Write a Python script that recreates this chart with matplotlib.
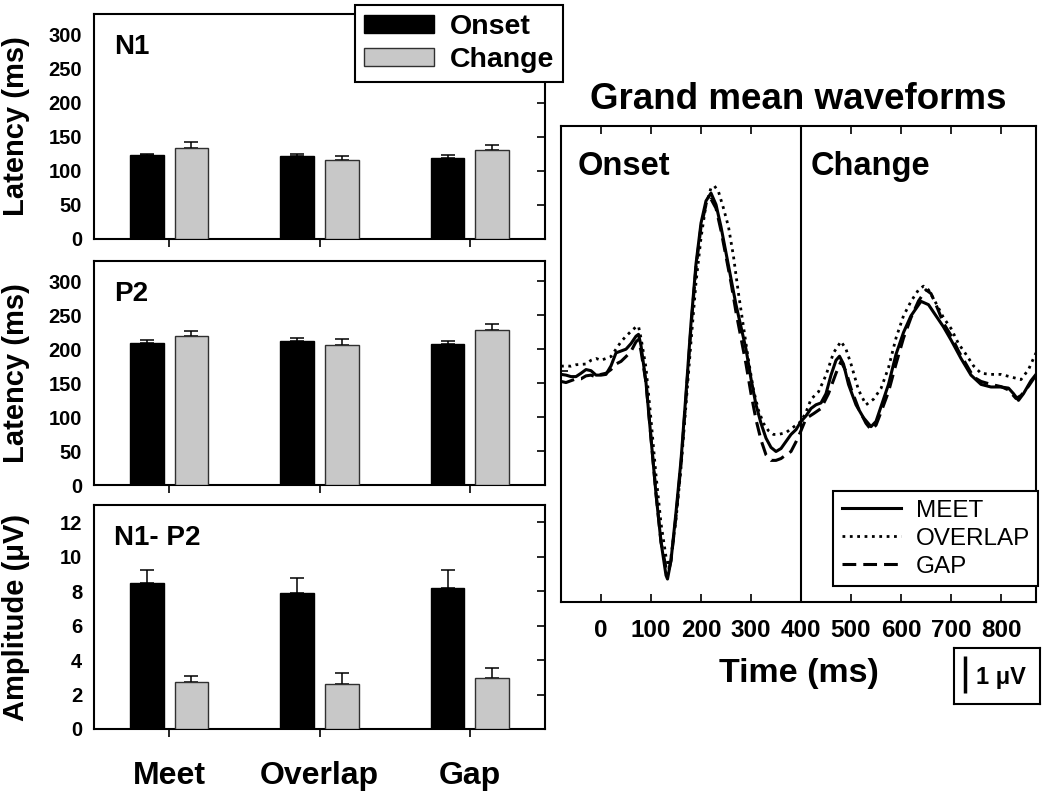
import matplotlib.pyplot as plt
import matplotlib.patches as mpatches
from matplotlib.lines import Line2D
import numpy as np

plt.rcParams['font.family'] = ['Liberation Sans', 'DejaVu Sans']
plt.rcParams['font.weight'] = 'bold'
plt.rcParams['axes.linewidth'] = 1.5

# --- bar data (latency in ms, amplitude in uV) ---
conditions = ['Meet', 'Overlap', 'Gap']

n1_onset = [122.5, 121.5, 119]
n1_onset_err = [2.5, 3, 3.5]
n1_change = [134, 116.5, 130]
n1_change_err = [8, 5, 8]

p2_onset = [209, 212, 207]
p2_onset_err = [4.5, 5, 5]
p2_change = [219, 206.5, 228]
p2_change_err = [8, 8.5, 9]

amp_onset = [8.45, 7.9, 8.2]
amp_onset_err = [0.75, 0.87, 1.03]
amp_change = [2.7, 2.63, 2.96]
amp_change_err = [0.37, 0.64, 0.58]

# --- grand mean waveforms (time ms, amplitude uV) ---
meet_t = [-80, -70, -60, -50, -40, -30, -20, -10, 0, 10, 20, 30, 40, 50, 60, 70,
          75, 80, 90, 100, 110, 120, 130, 133, 140,
          150, 160, 170, 180, 190, 200, 210, 220, 230, 240, 250, 260, 270, 280, 290,
          300, 310, 320, 330, 340, 350, 360, 370, 380, 390, 400,
          410, 420, 430, 440, 450, 460, 470, 477, 485, 495, 510, 525, 540, 550, 560,
          575, 590, 605, 620, 640, 655, 670, 685, 700, 720, 740, 760, 780, 800, 815,
          825, 835, 845, 860, 870]
meet_uv = [-0.08, -0.1, -0.14, -0.14, -0.05, 0.05, 0.02, -0.1, -0.1, -0.08, 0.15, 0.5, 0.55, 0.6, 0.75, 0.95,
           1.0, 0.7, -0.3, -1.8, -3.3, -4.6, -5.5, -5.6, -5.1,
           -3.8, -2.4, -0.6, 1.3, 2.9, 4.0, 4.6, 4.81, 4.5, 3.9, 3.2, 2.5, 1.8, 1.2, 0.6,
           -0.2, -0.9, -1.4, -1.8, -2.05, -2.16, -2.08, -1.89, -1.7, -1.57, -1.35,
           -1.2, -1.0, -0.9, -0.85, -0.6, -0.1, 0.3, 0.41, 0.2, -0.35, -0.9, -1.25, -1.49, -1.35, -0.95,
           -0.35, 0.46, 1.05, 1.5, 1.89, 1.8, 1.5, 1.2, 0.85, 0.35, -0.1, -0.35, -0.42, -0.42, -0.45,
           -0.6, -0.78, -0.6, -0.25, -0.08]

overlap_t = [-80, -70, -60, -50, -40, -30, -20, -10, 0, 10, 20, 30, 40, 50, 60, 70,
             75, 80, 90, 100, 110, 120, 130, 135, 140,
             150, 160, 170, 180, 190, 200, 210, 220,
             227, 235, 245, 255, 265, 275, 285, 295, 305, 315, 325, 335, 345, 355, 370, 385, 400,
             410, 420, 435, 450, 465, 480, 490, 500, 515, 530, 545, 560, 575, 590, 605, 620,
             635, 645, 655, 670, 685, 700, 715, 730, 745, 760, 780, 800, 820, 840, 855, 865, 870]
overlap_uv = [0.14, 0.15, 0.14, 0.18, 0.19, 0.2, 0.3, 0.35, 0.3, 0.35, 0.4, 0.6, 0.8, 0.95, 1.08, 1.2,
              1.22, 0.9, 0.1, -1.3, -2.8, -4.1, -5.0, -5.25, -5.0,
              -4.0, -2.6, -0.9, 0.8, 2.4, 3.6, 4.5, 4.95,
              5.0, 4.85, 4.4, 3.9, 3.1, 2.1, 1.2, 0.3, -0.5, -1.05, -1.4, -1.6, -1.7, -1.7, -1.65, -1.5, -1.35,
              -1.1, -0.75, -0.55, -0.1, 0.5, 0.81, 0.6, 0.2, -0.5, -0.9, -0.75, -0.46, 0.1, 0.9, 1.5, 1.89,
              2.2, 2.3, 2.2, 1.84, 1.45, 1.16, 0.75, 0.46, 0.15, -0.05, -0.08, -0.08, -0.15, -0.22, 0.05, 0.35, 0.5]

gap_t = [-80, -70, -60, -50, -40, -30, -20, -10, 0, 10, 20, 30, 40, 50, 60, 70,
         75, 80, 90, 100, 110, 120, 130, 135, 140,
         150, 160, 170, 180, 190, 200, 210, 220, 230, 240, 250, 260, 270, 280, 290,
         300, 310, 320, 330, 340, 350, 360, 370, 380, 390, 400,
         410, 425, 440, 455, 470, 480, 490, 500, 515, 530, 540, 550, 560, 575, 590, 605,
         620, 635, 650, 660, 670, 685, 700, 715, 730, 745, 760, 780, 800, 815, 830, 840, 855, 870]
gap_uv = [-0.27, -0.3, -0.25, -0.2, -0.2, -0.12, -0.1, -0.15, -0.08, -0.05, 0.05, 0.2, 0.27, 0.4, 0.54, 0.8,
          0.86, 0.55, -0.3, -1.8, -3.3, -4.6, -5.3, -5.4, -5.1,
          -3.9, -2.5, -0.7, 1.2, 2.8, 3.9, 4.5, 4.65, 4.4, 3.8, 3.1, 2.4, 1.6, 0.9, 0.2,
          -0.6, -1.3, -1.85, -2.25, -2.4, -2.4, -2.35, -2.25, -2.16, -1.9, -1.6,
          -1.27, -1.14, -1.0, -0.6, -0.05, 0.27, 0.0, -0.46, -1.0, -1.4, -1.57, -1.45, -1.1, -0.55, 0.2, 0.9,
          1.45, 1.9, 2.2, 2.1, 1.8, 1.3, 0.97, 0.55, 0.2, -0.15, -0.27, -0.35, -0.41, -0.5, -0.73, -0.65, -0.4, -0.1]

W, H = 1050, 793
fig = plt.figure(figsize=(W / 100, H / 100), dpi=100)


def px_box(l, t, r, b):
    # pixel box -> figure fraction rect
    return [l / W, 1 - b / H, (r - l) / W, (b - t) / H]


ONSET_C = 'black'
CHANGE_C = '#c8c8c8'
x = np.arange(1, len(conditions) + 1)
off, bw = 0.148, 0.225

panels = [
    ('N1', 'Latency (ms)', n1_onset, n1_onset_err, n1_change, n1_change_err, (0, 330), np.arange(0, 301, 50), (94, 14, 545, 239)),
    ('P2', 'Latency (ms)', p2_onset, p2_onset_err, p2_change, p2_change_err, (0, 330), np.arange(0, 301, 50), (94, 261, 545, 485)),
    ('N1- P2', 'Amplitude (\u03bcV)', amp_onset, amp_onset_err, amp_change, amp_change_err, (0, 13), np.arange(0, 13, 2), (94, 505, 545, 729)),
]

for i, (name, ylab, on, on_e, ch, ch_e, ylim, yt, pos) in enumerate(panels):
    ax = fig.add_axes(px_box(*pos))
    ax.bar(x - off, on, bw, color=ONSET_C, edgecolor='black', lw=1, zorder=3)
    ax.bar(x + off, ch, bw, color=CHANGE_C, edgecolor='#303030', lw=1, zorder=3)
    ax.errorbar(x - off, on, yerr=[np.zeros(3), on_e], fmt='none', ecolor='black',
                elinewidth=1.1, capsize=5, capthick=1.1, zorder=2)
    ax.errorbar(x + off, ch, yerr=[np.zeros(3), ch_e], fmt='none', ecolor='black',
                elinewidth=1.1, capsize=5, capthick=1.1, zorder=2)
    ax.set_xlim(0.5, 3.5)
    ax.set_ylim(*ylim)
    ax.set_yticks(yt)
    ax.set_xticks(x)
    ax.tick_params(axis='y', left=False, right=True, direction='in', length=6, width=1.2,
                   labelsize=14.5, pad=8.5)
    ax.tick_params(axis='x', direction='out', length=6, width=1.2)
    if i == 2:
        ax.set_xticklabels(conditions, fontsize=23, fontweight='bold')
        ax.tick_params(axis='x', pad=17)
    else:
        ax.set_xticklabels([])
    ax.set_ylabel(ylab, fontsize=21, fontweight='bold')
    ax.yaxis.set_label_coords(-0.141, 0.5)
    ax.text(0.044, 0.91, name, transform=ax.transAxes, fontsize=20, fontweight='bold',
            ha='left', va='top')

leg1 = fig.legend(handles=[mpatches.Patch(facecolor=ONSET_C, edgecolor='black', label='Onset'),
                           mpatches.Patch(facecolor=CHANGE_C, edgecolor='#303030', label='Change')],
                  loc='upper left', bbox_to_anchor=(355 / W, 1 - 5 / H), fancybox=False,
                  edgecolor='black', framealpha=1, prop={'size': 20.5, 'weight': 'bold'},
                  handlelength=2.45, handleheight=0.6, handletextpad=0.55, labelspacing=0.25,
                  borderpad=0.32, borderaxespad=0)
leg1.get_frame().set_linewidth(1.5)

# --- waveform panel ---
axw = fig.add_axes(px_box(561, 126, 1036, 602))
axw.plot(meet_t, meet_uv, color='black', lw=2.2, ls='-')
axw.plot(overlap_t, overlap_uv, color='black', lw=2.0, ls=':')
axw.plot(gap_t, gap_uv, color='black', lw=2.2, ls=(0, (4.5, 2.3)))
axw.axvline(400, color='black', lw=1.5)
axw.set_xlim(-80, 870)
wy = (-6.22, 6.62)
axw.set_ylim(*wy)
axw.set_xticks(np.arange(0, 801, 100))
axw.set_yticks([0])
axw.tick_params(axis='x', top=True, bottom=True, direction='in', length=6, width=1.2,
                labelsize=17.5, pad=12)
axw.tick_params(axis='y', left=True, direction='in', length=5, width=1.2, labelleft=False)
axw.set_xlabel('Time (ms)', fontsize=24.5, fontweight='bold', labelpad=12)
axw.set_title('Grand mean waveforms', fontsize=26.5, fontweight='bold', pad=12)
axw.text(0.036, 0.947, 'Onset', transform=axw.transAxes, fontsize=23.5, fontweight='bold',
         ha='left', va='top')
axw.text(0.526, 0.947, 'Change', transform=axw.transAxes, fontsize=23.5, fontweight='bold',
         ha='left', va='top')

leg2 = fig.legend(handles=[Line2D([], [], color='black', lw=2.2, ls='-', label='MEET'),
                           Line2D([], [], color='black', lw=2.0, ls=':', label='OVERLAP'),
                           Line2D([], [], color='black', lw=2.2, ls=(0, (4.5, 2.3)), label='GAP')],
                  loc='upper left', bbox_to_anchor=(833 / W, 1 - 491 / H), fancybox=False,
                  edgecolor='black', framealpha=1, prop={'size': 17.5, 'weight': 'normal'},
                  handlelength=2.45, handletextpad=0.6, labelspacing=0.25,
                  borderpad=0.35, borderaxespad=0)
leg2.get_frame().set_linewidth(1.5)

# --- 1 uV scale bar, drawn at the same uV scale as the waveform axes ---
scale_uv = 1
sb_pos = px_box(954, 648, 1040, 704)
axs = fig.add_axes(sb_pos)
ppu = (602 - 126) / (wy[1] - wy[0])  # pixels per uV in waveform panel
sb_h = 704 - 648
y0 = -11 / ppu
axs.set_ylim(y0, y0 + sb_h / ppu)
axs.set_xlim(0, 1)
axs.plot([0.13, 0.13], [0, scale_uv], color='black', lw=2.5, solid_capstyle='butt')
axs.text(0.26, 0.47, '1 \u03bcV', transform=axs.transAxes, fontsize=17, fontweight='bold',
         ha='left', va='center')
axs.set_xticks([])
axs.set_yticks([])

fig.savefig('out.png', dpi=100)
